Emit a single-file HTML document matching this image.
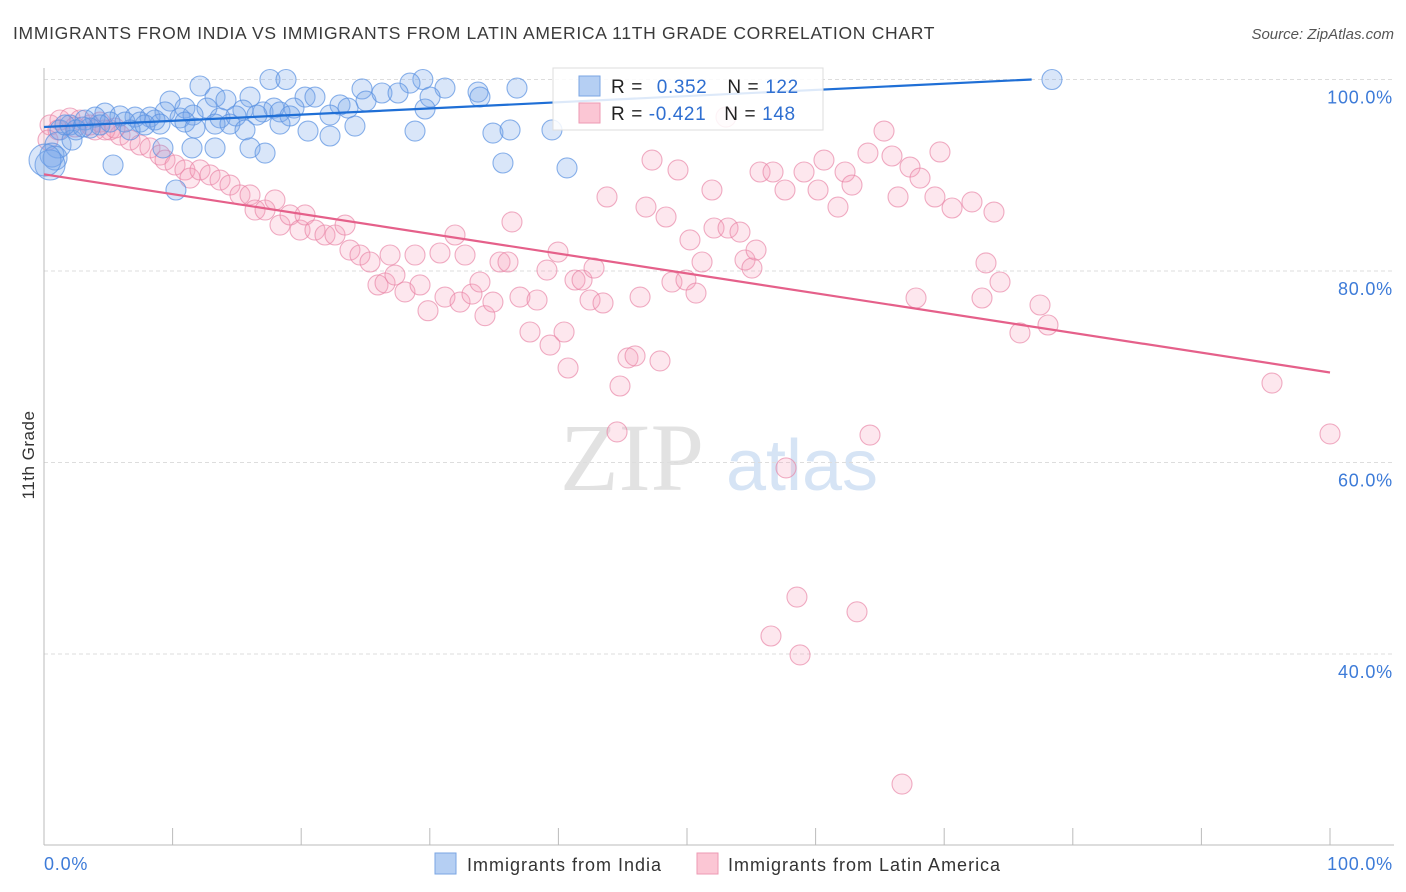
<!DOCTYPE html>
<html><head><meta charset="utf-8"><style>
body{margin:0;background:#fff;font-family:"Liberation Sans",sans-serif;}
#wrap{position:relative;width:1406px;height:892px;overflow:hidden;}
</style></head><body>
<div id="wrap">
<svg id="chart" width="1406" height="892" xmlns="http://www.w3.org/2000/svg">
<text x="13" y="39" font-size="17.5" letter-spacing="0.7" fill="#3a3a3a">IMMIGRANTS FROM INDIA VS IMMIGRANTS FROM LATIN AMERICA 11TH GRADE CORRELATION CHART</text>
<text x="1394" y="39" font-size="15" fill="#555" font-style="italic" text-anchor="end">Source: ZipAtlas.com</text>
<text x="632" y="490" font-size="96" fill="#e2e2e2" font-family="Liberation Serif,serif" text-anchor="middle">ZIP</text>
<text x="802" y="490" font-size="72" fill="#d6e4f5" text-anchor="middle">atlas</text>
<g id="grid"></g><g id="axes"></g><g id="pinkpts"></g><g id="bluepts"></g><g id="lines"></g>
<text transform="translate(34,455) rotate(-90)" font-size="17" letter-spacing="0.5" fill="#333" text-anchor="middle">11th Grade</text>
<g>
<rect x="553" y="68" width="270" height="62" fill="#fff" fill-opacity="0.85" stroke="#ddd"/>
<rect x="579" y="76" width="21" height="20" fill="#b5cff3" stroke="#7aa5e3"/>
<rect x="579" y="103" width="21" height="20" fill="#fbc6d4" stroke="#ee9ab3"/>
<text x="611" y="93" font-size="19" letter-spacing="0.6" fill="#222">R = <tspan fill="#2f6fd1" dx="8">0.352</tspan><tspan dx="20">N =</tspan><tspan fill="#2f6fd1" dx="6">122</tspan></text>
<text x="611" y="120" font-size="19" letter-spacing="0.6" fill="#222">R = <tspan fill="#2f6fd1">-0.421</tspan><tspan dx="18">N =</tspan><tspan fill="#2f6fd1" dx="6">148</tspan></text>
</g>
<g>
<rect x="435" y="853" width="21" height="21" fill="#b5cff3" stroke="#7aa5e3"/>
<text x="467" y="871" font-size="18" letter-spacing="1" fill="#333">Immigrants from India</text>
<rect x="697" y="853" width="21" height="21" fill="#fbc6d4" stroke="#ee9ab3"/>
<text x="728" y="871" font-size="18" letter-spacing="1" fill="#333">Immigrants from Latin America</text>
</g>
</svg>
</div>
<script>
const yTicks=[100,80,60,40];
const yTickLabels=["100.0%","80.0%","60.0%","40.0%"];
const xTickLabels=["0.0%","100.0%"];
const blueX=[12.13,17.57,18.82,29.46,24.73,28.46,31.18,33.75,36.78,78.38,13.30,14.15,16.02,20.30,21.07,23.02,25.04,26.28,27.53,30.02,33.90,9.80,10.96,12.67,15.47,17.03,17.88,19.44,22.24,23.64,29.63,4.74,5.91,7.08,8.24,9.41,10.58,11.59,13.69,14.93,16.56,18.35,19.13,1.24,2.02,3.19,3.97,5.13,6.30,7.47,8.63,9.02,10.96,11.74,13.30,14.46,15.63,18.35,24.18,20.53,22.24,28.85,34.91,36.24,39.50,11.51,13.30,16.02,17.19,9.25,1.09,0.62,0.86,0.47,2.18,5.37,10.26,35.69,40.67,0.08,6.69,7.85,4.35,3.58,2.49,3.03,1.63];
const blueY=[99.32,100,100,100,99.01,99.63,99.11,98.69,99.11,100,98.17,97.86,98.17,98.17,98.17,97.34,97.75,98.59,98.59,98.17,98.17,97.75,97.02,97.02,96.81,96.61,97.02,97.02,96.29,97.02,96.92,96.50,96.19,96.08,96.08,96.61,95.98,96.29,95.98,96.19,96.29,96.61,96.19,94.73,95.25,95.77,96.08,95.56,95.56,95.56,95.77,95.35,95.56,94.93,95.35,95.35,94.73,95.35,95.14,94.62,94.10,94.62,94.41,94.73,94.73,92.85,92.85,92.85,92.32,92.85,93.16,92.11,91.80,91.07,93.68,91.07,88.46,91.28,90.76,91.59,94.73,95.25,95.25,94.93,94.73,95.04,95.25];
const blueR=[10,10,10,10,10,10,10,10,10,10,10,10,10,10,10,10,10,10,10,10,10,10,10,10,10,10,10,10,10,10,10,10,10,10,10,10,10,10,10,10,10,10,10,10,10,10,10,10,10,10,10,10,10,10,10,10,10,10,10,10,10,10,10,10,10,10,10,10,10,10,13,12,12,15,10,10,10,10,10,16,10,10,10,10,10,10,10];
const pinkX=[0.47,1.24,2.02,2.80,3.58,4.35,5.13,5.91,6.69,7.47,8.24,9.02,9.41,10.19,10.96,11.35,12.13,12.91,13.69,14.46,15.24,16.02,16.41,17.19,17.96,18.35,19.13,19.91,20.30,21.07,21.85,22.63,23.41,23.79,24.57,25.35,25.97,26.52,26.91,27.29,28.07,28.85,29.24,29.86,30.79,31.18,31.96,32.35,32.74,33.28,33.90,34.29,34.91,35.46,36.08,36.39,37.01,37.79,38.34,39.11,39.35,39.97,40.44,40.75,41.29,41.84,42.46,42.77,43.47,43.78,44.79,45.41,45.96,46.35,46.81,47.28,47.90,48.37,48.83,49.30,49.92,50.23,50.70,51.17,51.94,52.10,53.19,54.12,54.51,55.05,55.37,55.68,56.69,57.62,59.10,60.19,60.65,61.74,62.29,62.83,64.07,64.23,65.32,65.94,66.41,67.34,67.81,68.12,69.28,69.67,70.61,72.16,72.94,73.25,73.87,74.34,75.89,77.45,78.07,95.49,100,44.56,57.70,58.55,56.53,58.79,63.22,66.72,53.03,0.31,1.09,2.41,3.97,4.74,5.52];
const pinkY=[95.25,95.77,95.98,95.77,95.25,95.56,94.73,94.20,93.68,93.16,92.85,92.11,91.59,91.07,90.55,89.71,90.55,90.03,89.50,88.98,87.94,87.94,86.37,86.37,87.42,84.80,85.85,84.28,85.85,84.28,83.76,83.76,84.80,82.19,81.67,80.94,78.54,78.75,81.67,79.58,77.81,81.67,78.54,75.85,81.88,77.28,83.76,76.76,81.67,77.59,78.85,75.33,76.76,80.94,80.94,85.12,77.28,73.63,76.97,80.10,72.27,81.98,73.63,69.87,79.06,79.06,76.97,80.31,76.66,87.73,67.99,70.92,71.13,77.28,86.68,91.59,70.61,85.64,78.85,90.55,79.06,83.24,77.70,80.94,88.46,84.49,84.49,84.07,81.15,80.31,82.19,90.34,90.34,88.46,90.34,88.46,91.59,86.68,90.34,88.98,92.32,62.87,94.62,92.01,87.73,90.86,77.18,89.71,87.73,92.43,86.58,87.21,77.18,80.84,86.16,78.85,73.53,76.45,74.36,68.30,62.98,63.19,59.43,45.95,41.88,39.90,44.41,26.42,96.08,93.68,94.73,95.04,94.73,94.73,94.93];
const blueTrendX=[0,76.8], blueTrendY=[95.04,100];
const pinkTrendX=[0,100], pinkTrendY=[90.1,69.4];
const NS="http://www.w3.org/2000/svg";
const sx=v=>44+v*12.86;
const sy=v=>79.5+(100-v)*9.575;
function mk(tag,attrs,parent){const e=document.createElementNS(NS,tag);for(const k in attrs)e.setAttribute(k,attrs[k]);parent.appendChild(e);return e;}
const grid=document.getElementById('grid'),axes=document.getElementById('axes');
yTicks.forEach((t,i)=>{
  const l=mk('line',{x1:44,x2:1394,y1:sy(t),y2:sy(t),stroke:'#ddd','stroke-dasharray':'4,3'},grid);
  
  
  const tx=mk('text',{x:1393,y:sy(t)+24,'font-size':18,'letter-spacing':0.8,fill:'#3d7bd8','text-anchor':'end'},axes);
  tx.textContent=yTickLabels[i];
  
  
});
const ya=mk('line',{x1:44,x2:44,y1:68,y2:845,stroke:'#bbb'},axes);


const xa=mk('line',{x1:44,x2:1394,y1:845,y2:845,stroke:'#bbb'},axes);


for(let i=0;i<=10;i++){
  const t=mk('line',{x1:sx(i*10),x2:sx(i*10),y1:828,y2:845,stroke:'#bbb'},axes);
  
  
}
[[0,'start',44],[100,'end',1393]].forEach((d,i)=>{
  const tx=mk('text',{x:d[2],y:870,'font-size':18,'letter-spacing':0.8,fill:'#3d7bd8','text-anchor':d[1]},axes);
  tx.textContent=xTickLabels[i];
  
  
});
const pg=document.getElementById('pinkpts');
pinkX.forEach((x,i)=>{
  const c=mk('circle',{cx:sx(x),cy:sy(pinkY[i]),r:10,fill:'rgba(246,160,188,0.25)',stroke:'rgba(232,130,165,0.65)','stroke-width':1.1},pg);
  
  
});
const bg=document.getElementById('bluepts');
blueX.forEach((x,i)=>{
  const c=mk('circle',{cx:sx(x),cy:sy(blueY[i]),r:blueR[i],fill:'rgba(120,165,235,0.28)',stroke:'rgba(90,145,225,0.7)','stroke-width':1.1},bg);
  
  
});
const lg=document.getElementById('lines');
const bl=mk('line',{x1:sx(blueTrendX[0]),y1:sy(blueTrendY[0]),x2:sx(blueTrendX[1]),y2:sy(blueTrendY[1]),stroke:'#1f6fd6','stroke-width':2.2},lg);


const pl=mk('line',{x1:sx(pinkTrendX[0]),y1:sy(pinkTrendY[0]),x2:sx(pinkTrendX[1]),y2:sy(pinkTrendY[1]),stroke:'#e5608a','stroke-width':2.2},lg);


</script>
</body></html>
